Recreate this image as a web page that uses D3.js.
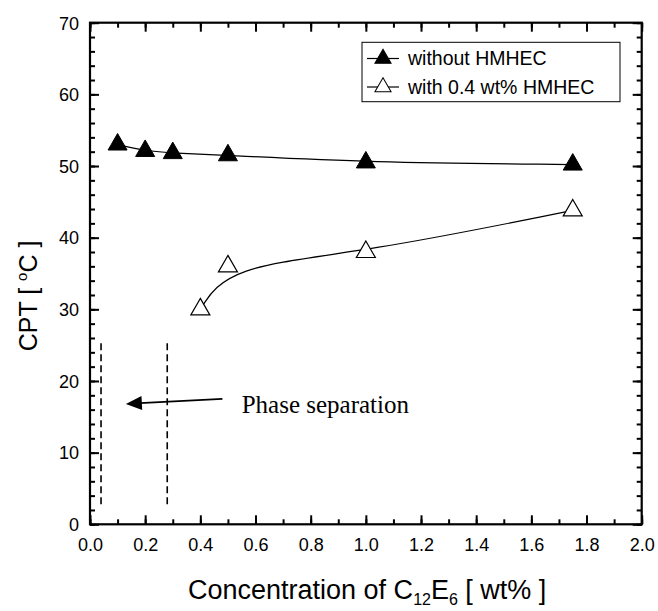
<!DOCTYPE html>
<html>
<head>
<meta charset="utf-8">
<script src="https://cdn.jsdelivr.net/npm/d3@7"></script>
<style>
  html, body { margin: 0; padding: 0; background: #fff; }
  svg { display: block; }
</style>
</head>
<body>
<svg id="chart" width="658" height="611"></svg>
<script>
// ---------------- data ----------------
const xTickValues = [0.0, 0.2, 0.4, 0.6, 0.8, 1.0, 1.2, 1.4, 1.6, 1.8, 2.0];
const xTickLabels = ["0.0", "0.2", "0.4", "0.6", "0.8", "1.0", "1.2", "1.4", "1.6", "1.8", "2.0"];
const yTickValues = [0, 10, 20, 30, 40, 50, 60, 70];
const yTickLabels = ["0", "10", "20", "30", "40", "50", "60", "70"];

const withoutX = [0.1, 0.2, 0.3, 0.5, 1.0, 1.75];
const withoutY = [53.0, 52.1, 51.8, 51.5, 50.5, 50.2];

const withX = [0.4, 0.5, 1.0, 1.75];
const withY = [30.0, 36.0, 38.0, 43.8];

const seriesNames = ["without HMHEC", "with 0.4 wt% HMHEC"];

const phaseBoundX = [0.04, 0.28];
const phaseBoundY = [2.8, 25.5];
const arrowFrom = [0.48, 17.5];
const arrowTo = [0.13, 16.8];
const phaseLabel = "Phase separation";
const phaseLabelAt = [0.55, 15.5];

// ---------------- layout ----------------
const svg = d3.select("#chart");
const L = 90, R = 641.7, T = 22.7, B = 524.3;
const x = d3.scaleLinear().domain([0, 2]).range([L, R]);
const y = d3.scaleLinear().domain([0, 70]).range([B, T]);
const sans = "Arial, 'Liberation Sans', Helvetica, sans-serif";
const serif = "'Times New Roman', 'Liberation Serif', serif";

// triangle with centroid at origin
const triPath = "M0,-11 L9.5,5.5 L-9.5,5.5 Z";

// ---------------- axes ----------------
const xMinor = d3.range(0, 2.0001, 0.1);
const yMinor = d3.range(0, 70.001, 2);

function drawAxis(g, axis) {
  g.call(axis);
  g.select(".domain").remove();
  g.selectAll("line").attr("stroke", "#000").attr("stroke-width", 2);
}

// bottom major
const gB = svg.append("g").attr("transform", `translate(0,${B})`);
drawAxis(gB, d3.axisBottom(x).tickValues(xTickValues).tickSize(-9).tickPadding(0).tickFormat((d, i) => xTickLabels[i]));
gB.selectAll("text").attr("font-family", sans).attr("font-size", 18).attr("fill", "#000")
  .attr("y", 27).attr("dy", 0);
// bottom minor
const gBm = svg.append("g").attr("transform", `translate(0,${B})`);
drawAxis(gBm, d3.axisBottom(x).tickValues(xMinor).tickSize(-5).tickFormat(""));
// top
const gT = svg.append("g").attr("transform", `translate(0,${T})`);
drawAxis(gT, d3.axisTop(x).tickValues(xTickValues).tickSize(-9).tickFormat(""));
const gTm = svg.append("g").attr("transform", `translate(0,${T})`);
drawAxis(gTm, d3.axisTop(x).tickValues(xMinor).tickSize(-5).tickFormat(""));
// left
const gL = svg.append("g").attr("transform", `translate(${L},0)`);
drawAxis(gL, d3.axisLeft(y).tickValues(yTickValues).tickSize(-9).tickPadding(0).tickFormat((d, i) => yTickLabels[i]));
gL.selectAll("text").attr("font-family", sans).attr("font-size", 18).attr("fill", "#000")
  .attr("x", -11).attr("dy", "0.35em");
const gLm = svg.append("g").attr("transform", `translate(${L},0)`);
drawAxis(gLm, d3.axisLeft(y).tickValues(yMinor).tickSize(-5).tickFormat(""));
// right
const gR = svg.append("g").attr("transform", `translate(${R},0)`);
drawAxis(gR, d3.axisRight(y).tickValues(yTickValues).tickSize(-9).tickFormat(""));
const gRm = svg.append("g").attr("transform", `translate(${R},0)`);
drawAxis(gRm, d3.axisRight(y).tickValues(yMinor).tickSize(-5).tickFormat(""));

// frame
svg.append("rect").attr("x", L).attr("y", T).attr("width", R - L).attr("height", B - T)
  .attr("fill", "none").attr("stroke", "#000").attr("stroke-width", 2.2);

// ---------------- axis titles ----------------
const xt = svg.append("text").attr("x", 188).attr("y", 598.5)
  .attr("font-family", sans).attr("font-size", 27).attr("fill", "#000");
xt.append("tspan").text("Concentration of C");
xt.append("tspan").attr("font-size", 16).attr("dy", 6).text("12");
xt.append("tspan").attr("dy", -6).text("E");
xt.append("tspan").attr("font-size", 16).attr("dy", 6).text("6");
xt.append("tspan").attr("dy", -6).text(" [ wt% ]");

const yt = svg.append("text").attr("transform", "translate(37,296) rotate(-90)")
  .attr("text-anchor", "middle")
  .attr("font-family", sans).attr("font-size", 25).attr("fill", "#000");
yt.append("tspan").text("CPT [ ");
yt.append("tspan").attr("font-size", 15).attr("dy", -10).text("o");
yt.append("tspan").attr("dy", 10).text("C ]");

// ---------------- series ----------------
const line = d3.line().x(d => x(d[0])).y(d => y(d[1])).curve(d3.curveBasis);
const withoutData = withoutX.map((v, i) => [v, withoutY[i]]);
const withData = withX.map((v, i) => [v, withY[i]]);

svg.append("path").attr("d", line(withoutData)).attr("fill", "none")
  .attr("stroke", "#000").attr("stroke-width", 1.2);
svg.append("path").attr("d", line(withData)).attr("fill", "none")
  .attr("stroke", "#000").attr("stroke-width", 1.2);

svg.selectAll(".tf").data(withoutData).enter().append("path")
  .attr("d", triPath).attr("transform", d => `translate(${x(d[0])},${y(d[1])})`)
  .attr("fill", "#000").attr("stroke", "#000").attr("stroke-width", 1);
svg.selectAll(".to").data(withData).enter().append("path")
  .attr("d", triPath).attr("transform", d => `translate(${x(d[0])},${y(d[1])})`)
  .attr("fill", "#fff").attr("stroke", "#000").attr("stroke-width", 1.2);

// ---------------- phase separation annotation ----------------
phaseBoundX.forEach(v => {
  svg.append("line").attr("x1", x(v)).attr("x2", x(v))
    .attr("y1", y(phaseBoundY[0])).attr("y2", y(phaseBoundY[1]))
    .attr("stroke", "#000").attr("stroke-width", 1.6).attr("stroke-dasharray", "7,4");
});
const ax0 = x(arrowFrom[0]), ay0 = y(arrowFrom[1]), ax1 = x(arrowTo[0]), ay1 = y(arrowTo[1]);
const ang = Math.atan2(ay1 - ay0, ax1 - ax0);
svg.append("line").attr("x1", ax0).attr("y1", ay0)
  .attr("x2", ax1 - 14 * Math.cos(ang)).attr("y2", ay1 - 14 * Math.sin(ang))
  .attr("stroke", "#000").attr("stroke-width", 1.8);
svg.append("path").attr("d", "M0,0 L16,-7 L16,7 Z")
  .attr("transform", `translate(${ax1},${ay1}) rotate(${ang * 180 / Math.PI + 180})`)
  .attr("fill", "#000");
svg.append("text").attr("x", x(phaseLabelAt[0])).attr("y", y(phaseLabelAt[1]))
  .attr("font-family", serif).attr("font-size", 25).attr("fill", "#000").text(phaseLabel);

// ---------------- legend ----------------
const lg = svg.append("g");
lg.append("rect").attr("x", 362).attr("y", 42.3).attr("width", 258).attr("height", 59.4)
  .attr("fill", "#fff").attr("stroke", "#000").attr("stroke-width", 1);
const legRows = [{ y: 58.5, fill: "#000" }, { y: 87, fill: "#fff" }];
legRows.forEach((r, i) => {
  lg.append("line").attr("x1", 367).attr("x2", 399).attr("y1", r.y).attr("y2", r.y)
    .attr("stroke", "#000").attr("stroke-width", 1.2);
  lg.append("path").attr("d", triPath).attr("transform", `translate(383,${r.y}) scale(0.85)`)
    .attr("fill", r.fill).attr("stroke", "#000").attr("stroke-width", 1.2);
  lg.append("text").attr("x", 408).attr("y", r.y + 6.5)
    .attr("font-family", sans).attr("font-size", 19.5).attr("fill", "#000").text(seriesNames[i]);
});
</script>
</body>
</html>
